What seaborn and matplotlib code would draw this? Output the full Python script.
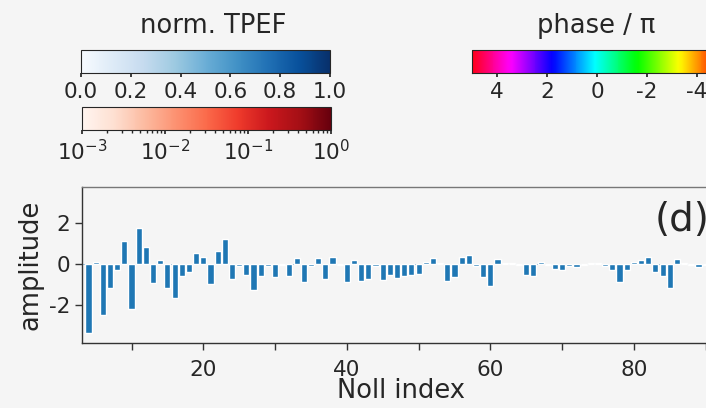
import numpy as np
import pandas as pd
import matplotlib
matplotlib.use("Agg")
import matplotlib.pyplot as plt
import matplotlib.colors as mcolors
import matplotlib.cm as cm
import seaborn as sns

# Zernike coefficients by Noll index (piston, tip and tilt removed)
noll_index = list(range(4, 92))
amplitude = [
    -3.41, 0.11, -2.51, -1.20, -0.30, 1.13, -2.22, 1.76, 0.85, -0.94,   # 4-13
    0.20, -1.20, -1.69, -0.59, -0.38, 0.56, 0.36, -1.00, 0.64, 1.23,     # 14-23
    -0.74, -0.10, -0.55, -1.30, -0.60, -0.10, -0.65, -0.05, -0.60, 0.30, # 24-33
    -0.90, -0.10, 0.30, -0.75, 0.35, -0.05, -0.90, 0.20, -0.85, -0.75,   # 34-43
    -0.10, -0.80, -0.55, -0.70, -0.60, -0.55, -0.50, 0.10, 0.30, 0.05,   # 44-53
    -0.85, -0.65, 0.35, 0.45, -0.10, -0.65, -1.10, 0.25, 0.03, 0.05,     # 54-63
    -0.05, -0.55, -0.60, 0.10, -0.05, -0.25, -0.30, -0.10, -0.15, -0.05, # 64-73
    0.05, 0.03, -0.10, -0.30, -0.90, -0.30, 0.10, 0.20, 0.35, -0.40,     # 74-83
    -0.60, -1.20, 0.25, 0.05, -0.05, -0.15, -0.05, 0.05,                 # 84-91
]

# Colour scales shown above the coefficient plot
tpef_lin_range = [0.0, 1.0]
tpef_lin_ticks = [0.0, 0.2, 0.4, 0.6, 0.8, 1.0]
tpef_log_range = [1e-3, 1e0]
phase_range = [-5, 5]
phase_ticks = [4, 2, 0, -2, -4]

BG = "#f5f5f5"
sns.set_theme(style="ticks")
plt.rcParams["font.family"] = ["DejaVu Sans"]
plt.rcParams["axes.unicode_minus"] = False
plt.rcParams["figure.facecolor"] = BG
plt.rcParams["axes.facecolor"] = BG
plt.rcParams["savefig.facecolor"] = BG

W, H = 706, 408
fig = plt.figure(figsize=(W / 100, H / 100), dpi=100)


def px_axes(x0, y0, x1, y1):
    """Axes placed by pixel box (top-left origin)."""
    return fig.add_axes([x0 / W, 1 - y1 / H, (x1 - x0) / W, (y1 - y0) / H])


TICK_FS = 15.5
LABEL_FS = 18.5

# --- coefficient bar plot ---
ax = px_axes(82, 187, 720, 343)
df = pd.DataFrame({"noll": noll_index, "amp": amplitude})
sns.barplot(data=df, x="noll", y="amp", native_scale=True, width=0.85,
            color="#1f77b4", saturation=1, errorbar=None, ax=ax)
ax.axhline(0, color="#1f77b4", lw=0.6, alpha=0.5, zorder=0)
ax.set_xlim(3.1, 92.0)
ax.set_ylim(-3.9, 3.8)
ax.set_xticks([10, 20, 30, 40, 50, 60, 70, 80, 90])
ax.set_xticklabels(["", "20", "", "40", "", "60", "", "80", ""])
ax.set_yticks([-2, 0, 2])
ax.tick_params(labelsize=TICK_FS, length=5, width=1, color="#333333")
ax.tick_params(axis="x", pad=7)
ax.set_xlabel("Noll index", fontsize=LABEL_FS, labelpad=-1)
ax.set_ylabel("amplitude", fontsize=LABEL_FS, labelpad=4)
for s in ax.spines.values():
    s.set_color("#333333")
    s.set_linewidth(1.0)
ax.spines["top"].set_color("#777777")
fig.text(655 / W, 1 - 220 / H, "(d)", fontsize=28, ha="left", va="center")

# --- normalised TPEF colour bars ---
cax1 = px_axes(81, 50, 330, 73)
sm1 = cm.ScalarMappable(norm=mcolors.Normalize(*tpef_lin_range), cmap="Blues")
cb1 = fig.colorbar(sm1, cax=cax1, orientation="horizontal", ticks=tpef_lin_ticks)
cb1.ax.set_xticklabels([f"{t:.1f}" for t in tpef_lin_ticks])
cb1.ax.tick_params(labelsize=TICK_FS, length=3)
cb1.outline.set_linewidth(0.8)

cax2 = px_axes(82, 107, 331, 130)
sm2 = cm.ScalarMappable(norm=mcolors.LogNorm(*tpef_log_range), cmap="Reds")
cb2 = fig.colorbar(sm2, cax=cax2, orientation="horizontal")
cb2.ax.tick_params(labelsize=TICK_FS, length=3)
cb2.ax.tick_params(which="minor", length=2)
cb2.outline.set_linewidth(0.8)

fig.text(213 / W, 1 - 26 / H, "norm. TPEF", fontsize=LABEL_FS, ha="center", va="center")

# --- phase colour bar ---
cax3 = px_axes(472, 50, 722, 73)
sm3 = cm.ScalarMappable(norm=mcolors.Normalize(*phase_range), cmap="hsv")
cb3 = fig.colorbar(sm3, cax=cax3, orientation="horizontal", ticks=phase_ticks)
cb3.ax.invert_xaxis()
cb3.ax.tick_params(labelsize=TICK_FS, length=3)
cb3.outline.set_linewidth(0.8)
fig.text(596 / W, 1 - 26 / H, "phase / π", fontsize=LABEL_FS, ha="center", va="center")

fig.savefig("out.png", dpi=100)
